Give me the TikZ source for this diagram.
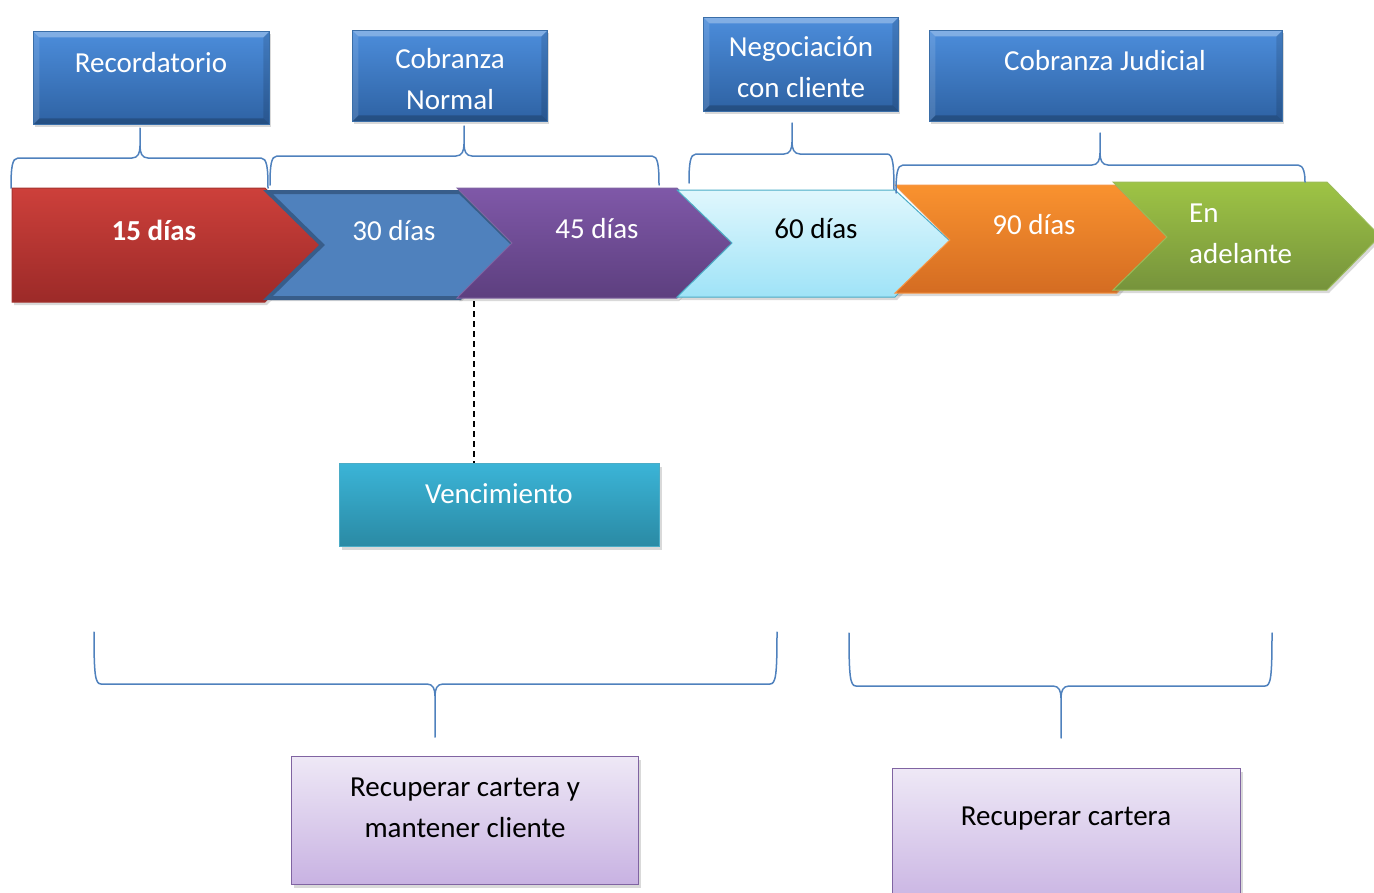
\documentclass[tikz,border=0pt]{standalone}
\usepackage{fontspec}
\setmainfont{Carlito}
\usetikzlibrary{shadows}
\definecolor{topA}{HTML}{4C8DDB}
\definecolor{topB}{HTML}{2E62A3}
\definecolor{topE}{HTML}{3A6EA8}
\definecolor{braceC}{HTML}{4F81BD}
\definecolor{redA}{HTML}{CD403B}
\definecolor{redB}{HTML}{9C2A28}
\definecolor{blueF}{HTML}{4F81BD}
\definecolor{blueE}{HTML}{385D8A}
\definecolor{purA}{HTML}{7F58A8}
\definecolor{purB}{HTML}{5D3F7F}
\definecolor{purE}{HTML}{8064A2}
\definecolor{cyaA}{HTML}{E0F7FD}
\definecolor{cyaB}{HTML}{9FE3F7}
\definecolor{cyaE}{HTML}{4BACC6}
\definecolor{oraA}{HTML}{F9922F}
\definecolor{oraB}{HTML}{D46C22}
\definecolor{oraE}{HTML}{F79646}
\definecolor{grnA}{HTML}{9EC445}
\definecolor{grnB}{HTML}{76933C}
\definecolor{grnE}{HTML}{9BBB59}
\definecolor{venA}{HTML}{3BB4D7}
\definecolor{venB}{HTML}{2A8AA4}
\definecolor{lilA}{HTML}{EEE8F6}
\definecolor{lilB}{HTML}{C8B2E2}
\newcommand\bracedraw[8]{% x1,ye1,x2,ye2,yh,xt,yt,d
  \draw[bracestyle] (#1,#2) .. controls (#1,{#5+#8*10}) and ({#1+1},#5) .. ({#1+7},#5)
    -- ({#6-8},#5) .. controls ({#6-2},#5) and (#6,{#5-#8*5}) .. (#6,{#5-#8*12}) -- (#6,#7)
    (#6,{#5-#8*12}) .. controls (#6,{#5-#8*5}) and ({#6+2},#5) .. ({#6+8},#5)
    -- ({#3-7},#5) .. controls ({#3-1},#5) and (#3,{#5+#8*10}) .. (#3,#4);}
\begin{document}
\begin{tikzpicture}[x=1pt,y=-1pt,
  shad/.style={drop shadow={opacity=0.3,shadow xshift=2pt,shadow yshift=-3pt}},
  bevel/.style={path picture={
    \fill[white,opacity=0.3] (path picture bounding box.north west) -- (path picture bounding box.north east)
      -- ([xshift=-6pt,yshift=-6pt]path picture bounding box.north east) -- ([xshift=6pt,yshift=-6pt]path picture bounding box.north west) -- cycle;
    \fill[white,opacity=0.12] (path picture bounding box.north west) -- ([xshift=6pt,yshift=-6pt]path picture bounding box.north west)
      -- ([xshift=6pt,yshift=6pt]path picture bounding box.south west) -- (path picture bounding box.south west) -- cycle;
    \fill[black,opacity=0.12] (path picture bounding box.north east) -- ([xshift=-6pt,yshift=-6pt]path picture bounding box.north east)
      -- ([xshift=-6pt,yshift=6pt]path picture bounding box.south east) -- (path picture bounding box.south east) -- cycle;
    \fill[black,opacity=0.2] (path picture bounding box.south west) -- (path picture bounding box.south east)
      -- ([xshift=-6pt,yshift=6pt]path picture bounding box.south east) -- ([xshift=6pt,yshift=6pt]path picture bounding box.south west) -- cycle;}},
  topbox/.style={rectangle,inner sep=0pt,anchor=north west,draw=topE,line width=0.8pt,top color=topA,bottom color=topB,shad,bevel},
  lilbox/.style={rectangle,inner sep=0pt,anchor=north west,draw=purE,line width=1.2pt,top color=lilA,bottom color=lilB,shad},
  txt/.style={font=\fontsize{29}{41}\selectfont,align=center,inner sep=0pt},
  wtxt/.style={txt,text=white},
  btxt/.style={txt,text=black},
  bracestyle/.style={draw=braceC,line width=1.5pt,line cap=round,line join=round},
  arrowshape/.style={line width=1pt,shad}]
\useasboundingbox (0,0) rectangle (1374,892);

% top boxes
\node[topbox,minimum width=236pt,minimum height=93pt] (recbox) at (33,31) {};
\node[topbox,minimum width=195pt,minimum height=91pt] (cnbox) at (352,30) {};
\node[topbox,minimum width=195pt,minimum height=94pt] (negbox) at (703,17) {};
\node[topbox,minimum width=353pt,minimum height=91pt] (cjbox) at (929,30) {};
\node[wtxt] (rect) at (151,63) {Recordatorio};
\node[wtxt] (cnt) at (450,79) {Cobranza\\Normal};
\node[wtxt] (negt) at (801,67) {Negociación\\con cliente};
\node[wtxt] (cjt) at (1105,61) {Cobranza Judicial};

% braces over the arrows
\bracedraw{11}{188}{268}{188}{158}{140}{128}{1}
\bracedraw{270}{185}{659}{185}{156}{464}{126}{1}
\bracedraw{689}{183}{894}{193}{154}{792}{123}{1}

% arrows
\path[arrowshape,draw=redA!80!black,top color=redA,bottom color=redB]
  (12,188) -- (265,188) -- (320,245) -- (265,302) -- (12,302) -- cycle;
\path[arrowshape,draw=blueE,line width=4pt,fill=blueF]
  (268,192) -- (460,192) -- (514,245) -- (460,298) -- (268,298) -- (322,245) -- cycle;
\path[arrowshape,draw=purE,top color=purA,bottom color=purB]
  (457,188) -- (677,188) -- (732,243) -- (677,298) -- (457,298) -- (512,243) -- cycle;
\path[arrowshape,draw=cyaE,top color=cyaA,bottom color=cyaB]
  (677,190) -- (895,190) -- (950,241) -- (895,297) -- (677,297) -- (732,243) -- cycle;
\path[arrowshape,draw=oraE,top color=oraA,bottom color=oraB]
  (895,185) -- (1117,185) -- (1167,237) -- (1117,293) -- (895,293) -- (950,240) -- cycle;
\path[arrowshape,draw=grnE,top color=grnA,bottom color=grnB]
  (1113,182) -- (1327,182) -- (1380,236) -- (1327,290) -- (1113,290) -- (1167,237) -- cycle;

\bracedraw{896}{193}{1305}{182}{165}{1100}{133}{1}

\node[wtxt,font=\fontsize{29}{41}\selectfont\bfseries] (d15) at (154,230) {15 días};
\node[wtxt] (d30) at (394,231) {30 días};
\node[wtxt] (d45) at (597,229) {45 días};
\node[btxt] (d60) at (816,229) {60 días};
\node[wtxt] (d90) at (1034,225) {90 días};
\node[wtxt,align=left,anchor=west] (dadel) at (1189,234) {En\\adelante};

% vencimiento
\node[rectangle,inner sep=0pt,anchor=north west,draw=cyaE,line width=1pt,top color=venA,bottom color=venB,shad,minimum width=320pt,minimum height=83pt] (venc) at (339,463) {};
\node[wtxt] (venct) at (499,494) {Vencimiento};
\coordinate (vtop) at (474,301);
\draw[dash pattern=on 6pt off 4pt,line width=2.2pt] (vtop) -- (vtop |- venc.north);

% bottom braces
\bracedraw{94}{632}{777}{632}{684}{435}{737}{(-1)}
\bracedraw{849}{633}{1272}{633}{686}{1061}{738}{(-1)}

% bottom boxes
\node[lilbox,minimum width=347pt,minimum height=128pt] (goal1) at (291,756) {};
\node[lilbox,minimum width=348pt,minimum height=140pt] (goal2) at (892,768) {};
\node[btxt] (goal1t) at (465,808) {Recuperar cartera y\\mantener cliente};
\node[btxt] (goal2t) at (1066,819) {Recuperar cartera};
\end{tikzpicture}
\end{document}
